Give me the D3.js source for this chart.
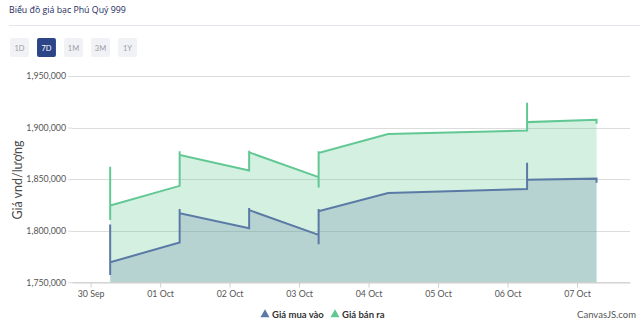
<!DOCTYPE html>
<html>
<head>
<meta charset="utf-8">
<script src="https://cdn.jsdelivr.net/npm/d3@7"></script>
<style>
  html, body { margin: 0; padding: 0; background: #fff; }
  svg { display: block; }
</style>
</head>
<body>
<svg id="chart" width="640" height="326"></svg>
<script>
const titleText = "Biểu đồ giá bạc Phú Quý 999";
const rangeButtons = ["1D", "7D", "1M", "3M", "1Y"];
const activeButton = "7D";
const yAxisTitle = "Giá vnd/lượng";
const seriesNames = ["Giá mua vào", "Giá bán ra"];

// timestamps (duplicates = several updates at the same moment)
const times = [
  "2025-09-30T06:45", "2025-09-30T06:45", "2025-09-30T06:45",
  "2025-10-01T06:45", "2025-10-01T06:45", "2025-10-01T06:45",
  "2025-10-02T06:45", "2025-10-02T06:45", "2025-10-02T06:45",
  "2025-10-03T06:45", "2025-10-03T06:45", "2025-10-03T06:45", "2025-10-03T06:45",
  "2025-10-04T06:45",
  "2025-10-06T06:45", "2025-10-06T06:45", "2025-10-06T06:45",
  "2025-10-07T06:45", "2025-10-07T06:45"
];
const buyValues = [
  1806000, 1757000, 1769500,
  1788500, 1821000, 1817000,
  1802500, 1822000, 1820000,
  1796000, 1787000, 1821000, 1819000,
  1836500,
  1840500, 1866000, 1849500,
  1850500, 1846500
];
const sellValues = [
  1862000, 1810500, 1824500,
  1843500, 1877000, 1873500,
  1858500, 1877500, 1876000,
  1852000, 1842000, 1877000, 1875500,
  1893700,
  1897200, 1924000, 1905300,
  1907600, 1903700
];
const yTicks = [1750000, 1800000, 1850000, 1900000, 1950000];
const xTicks = ["2025-09-30", "2025-10-01", "2025-10-02", "2025-10-03", "2025-10-04", "2025-10-05", "2025-10-06", "2025-10-07"];
const xDomain = ["2025-09-29T17:34", "2025-10-07T18:18"];
const yDomain = [1750000, 1950000];

const parseT = d3.timeParse("%Y-%m-%dT%H:%M");
const parseD = d3.timeParse("%Y-%m-%d");

const svg = d3.select("#chart");
const axisFont = "Lato, 'Open Sans', sans-serif";

// Header
svg.append("text").attr("x", 9).attr("y", 13)
  .attr("font-family", "'Open Sans', Lato, sans-serif").attr("font-size", 8.8)
  .attr("fill", "#1d2a5c").text(titleText);
svg.append("line").attr("x1", 9).attr("x2", 640).attr("y1", 25.5).attr("y2", 25.5)
  .attr("stroke", "#e4e6ee").attr("stroke-width", 1);

const btnX = d3.scaleBand().domain(rangeButtons).range([10, 137]).paddingInner(0.3);
const btn = svg.append("g").selectAll("g").data(rangeButtons).join("g")
  .attr("transform", d => `translate(${btnX(d)},38)`);
btn.append("rect").attr("width", btnX.bandwidth()).attr("height", 19).attr("rx", 2)
  .attr("fill", d => d === activeButton ? "#2b4586" : "#f1f2f5");
btn.append("text").attr("x", btnX.bandwidth() / 2).attr("y", 12.5)
  .attr("text-anchor", "middle").attr("font-family", axisFont).attr("font-size", 7.5)
  .attr("fill", d => d === activeButton ? "#fff" : "#9a9ca6").text(d => d);

// Scales
const x = d3.scaleTime().domain(xDomain.map(parseT)).range([72, 630]);
const y = d3.scaleLinear().domain(yDomain).range([282.3, 76]);

// Grid
svg.append("g").selectAll("line").data(yTicks).join("line")
  .attr("x1", 72).attr("x2", 630)
  .attr("y1", d => Math.round(y(d)) + 0.5).attr("y2", d => Math.round(y(d)) + 0.5)
  .attr("stroke", "#dcdcdc").attr("stroke-width", 1);

const buyData = times.map((t, i) => ({ t: parseT(t), v: buyValues[i] }));
const sellData = times.map((t, i) => ({ t: parseT(t), v: sellValues[i] }));

const area = d3.area().x(d => x(d.t)).y0(y(yDomain[0])).y1(d => y(d.v));
const line = d3.line().x(d => x(d.t)).y(d => y(d.v));

const sellColor = "#62c893", buyColor = "#5a7aa5";

svg.append("path").attr("d", area(sellData)).attr("fill", sellColor).attr("fill-opacity", 0.28);
svg.append("path").attr("d", area(buyData)).attr("fill", buyColor).attr("fill-opacity", 0.24);
svg.append("path").attr("d", line(sellData)).attr("fill", "none").attr("stroke", sellColor).attr("stroke-width", 2);
svg.append("path").attr("d", line(buyData)).attr("fill", "none").attr("stroke", buyColor).attr("stroke-width", 2);

// Y axis
const yAxis = svg.append("g").attr("transform", "translate(72,0)")
  .call(d3.axisLeft(y).tickValues(yTicks).tickFormat(d3.format(",")).tickSize(4).tickPadding(2));
yAxis.select(".domain").remove();
yAxis.selectAll("line").attr("stroke", "#dcdcdc");
yAxis.selectAll("text").attr("font-family", axisFont).attr("font-size", 8.8).attr("fill", "#555");

svg.append("text").attr("transform", "translate(22,180) rotate(-90)")
  .attr("text-anchor", "middle").attr("font-family", axisFont).attr("font-size", 12.5)
  .attr("fill", "#4a4a4a").text(yAxisTitle);

// X axis
const xAxis = svg.append("g").attr("transform", `translate(0,${Math.round(y(yDomain[0])) + 0.5})`)
  .call(d3.axisBottom(x).tickValues(xTicks.map(parseD)).tickFormat(d3.timeFormat("%d %b")).tickSize(5).tickPadding(3).tickSizeOuter(0));
xAxis.select(".domain").attr("stroke", "#cfcfcf");
xAxis.selectAll(".tick line").attr("stroke", "#cfcfcf");
xAxis.selectAll("text").attr("font-family", axisFont).attr("font-size", 8.8).attr("fill", "#555");

// Legend
const legend = svg.append("g").attr("transform", "translate(0,314)");
const legendItems = [
  { name: seriesNames[0], color: buyColor, x: 261 },
  { name: seriesNames[1], color: sellColor, x: 331 }
];
const li = legend.selectAll("g").data(legendItems).join("g")
  .attr("transform", d => `translate(${d.x},0)`);
li.append("path").attr("d", d3.symbol().type(d3.symbolTriangle).size(36)).attr("transform", "translate(4,0.5)")
  .attr("fill", d => d.color);
li.append("text").attr("x", 11).attr("y", 3.5).attr("font-family", axisFont).attr("font-size", 9.5)
  .attr("font-weight", "bold").attr("fill", "#333").text(d => d.name);

svg.append("text").attr("x", 636).attr("y", 318).attr("text-anchor", "end")
  .attr("font-family", axisFont).attr("font-size", 9.5).attr("fill", "#555").text("CanvasJS.com");
</script>
</body>
</html>
